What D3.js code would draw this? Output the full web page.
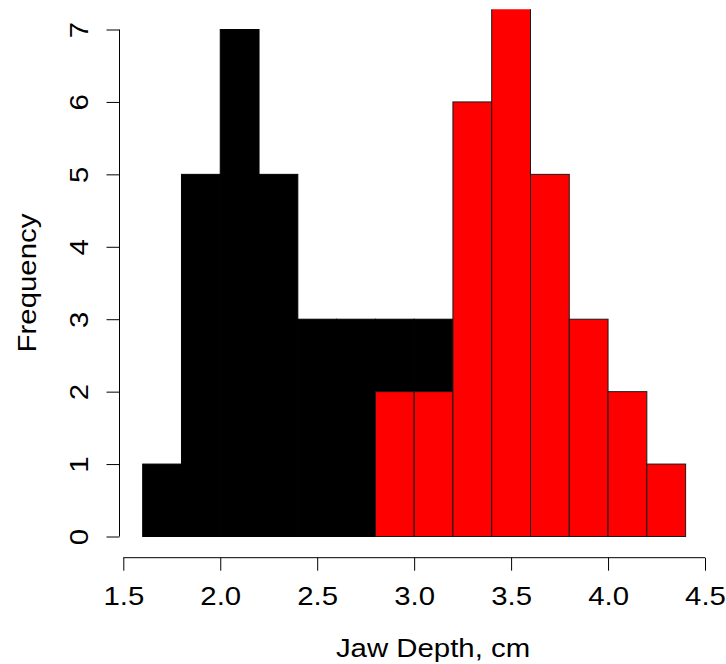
<!DOCTYPE html>
<html><head><meta charset="utf-8">
<script src="https://cdn.jsdelivr.net/npm/d3@7"></script>
<style>body{margin:0;background:#fff}svg{display:block}text{font-family:"Liberation Sans",Arial,Helvetica,sans-serif}</style>
</head><body>
<script>
// Histogram bins (bin start) and counts
const binWidth = 0.2;
const blackStarts = [1.6,1.8,2.0,2.2,2.4,2.6,2.8,3.0];
const blackCounts = [1,5,7,5,3,3,3,3];
const redStarts = [2.8,3.0,3.2,3.4,3.6,3.8,4.0,4.2];
const redCounts = [2,2,6,8,5,3,2,1];
const xTicks = [1.5,2.0,2.5,3.0,3.5,4.0,4.5];
const yTicks = [0,1,2,3,4,5,6,7];
const xLabel = "Jaw Depth, cm";
const yLabel = "Frequency";

const W = 726, H = 664, FS = 26, SX = 1.13;
const svg = d3.select("body").append("svg").attr("width", W).attr("height", H);

const x = d3.scaleLinear().domain([1.5, 4.5]).range([123.3, 705.0]);
const y = d3.scaleLinear().domain([0, 7]).range([536.5, 29.5]);
const plotL = x(1.488), plotR = x(4.512), plotT = y(7.28), plotB = y(-0.28);

svg.append("defs").append("clipPath").attr("id","plotclip")
  .append("rect").attr("x", plotL).attr("y", plotT).attr("width", plotR-plotL).attr("height", plotB-plotT);

const g = svg.append("g").attr("clip-path","url(#plotclip)");

function drawHist(starts, counts, fill, stroke){
  g.append("g").selectAll("rect").data(starts.map((s,i)=>({s, c: counts[i]}))).join("rect")
    .attr("x", d => x(d.s))
    .attr("y", d => y(d.c))
    .attr("width", d => x(d.s + binWidth) - x(d.s))
    .attr("height", d => y(0) - y(d.c))
    .attr("fill", fill)
    .attr("stroke", stroke)
    .attr("stroke-width", 1);
}
drawHist(blackStarts, blackCounts, "#000000", "#000000");
drawHist(redStarts, redCounts, "#FF0000", "#1a1a1a");

// X axis
const xAxisY = 557.7;
const xa = svg.append("g").attr("transform", `translate(0,${xAxisY})`)
  .call(d3.axisBottom(x).tickValues(xTicks).tickFormat(d3.format(".1f")).tickSize(13).tickSizeOuter(0));
xa.select(".domain").attr("d", `M${x(1.5)},0H${x(4.5)}`).attr("stroke","#000");
xa.selectAll(".tick line").attr("stroke","#000");
xa.selectAll(".tick text").attr("font-size", FS).attr("fill","#000").attr("font-family",null)
  .attr("dy", null).attr("y", null)
  .attr("transform", `translate(0,47.5) scale(${SX},1)`);

// Y axis
const yAxisX = 119.5;
const ya = svg.append("g").attr("transform", `translate(${yAxisX},0)`)
  .call(d3.axisLeft(y).tickValues(yTicks).tickFormat(d3.format("d")).tickSize(13).tickSizeOuter(0));
ya.select(".domain").attr("d", `M0,${y(0)}V${y(7)}`).attr("stroke","#000");
ya.selectAll(".tick line").attr("stroke","#000");
ya.selectAll(".tick text").attr("font-size", FS).attr("fill","#000").attr("font-family",null)
  .attr("x", null).attr("dy", null)
  .attr("text-anchor","middle")
  .attr("transform", `translate(-31.5,0) rotate(-90) scale(${SX},1)`);

// Axis labels
svg.append("text").attr("transform", `translate(433,656.5) scale(${SX},1)`)
  .attr("text-anchor","middle").attr("font-size", FS).attr("fill","#000").text(xLabel);
svg.append("text").attr("transform", `translate(36,${(plotT+plotB)/2}) rotate(-90) scale(${SX},1)`)
  .attr("text-anchor","middle").attr("font-size", FS).attr("fill","#000").text(yLabel);
</script>
</body></html>
